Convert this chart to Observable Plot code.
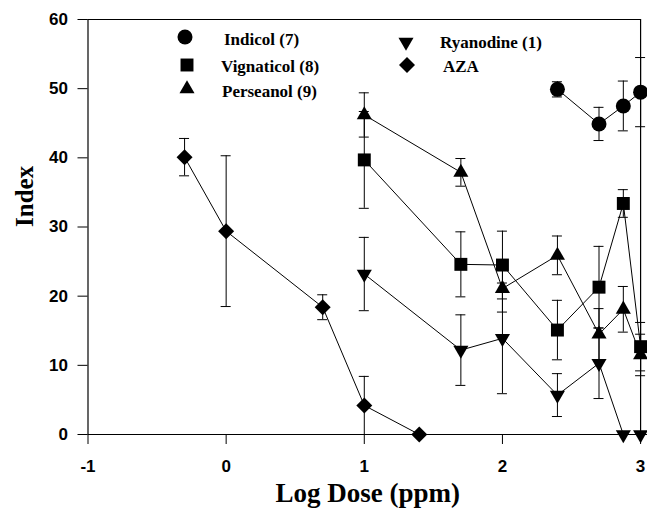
<!DOCTYPE html>
<html>
<head>
<meta charset="utf-8">
<script src="https://cdn.jsdelivr.net/npm/d3@7"></script>
<script src="https://cdn.jsdelivr.net/npm/@observablehq/plot@0.6"></script>
<style>
  body { margin: 0; background: #fff; }
  #wrap { position: relative; width: 647px; height: 516px; overflow: hidden; }
  #legend { position: absolute; left: 0; top: 0; width: 647px; height: 110px; pointer-events: none; }
  .item { position: absolute; display: flex; align-items: center; font: bold 17px "Liberation Serif", "Times New Roman", serif; color: #000; white-space: nowrap; }
  .item svg { display: block; }
</style>
</head>
<body>
<div id="wrap"><div id="legend"></div></div>
<script>
// ---- data (log dose in ppm, index, error) ----
const seriesNames = ["Indicol (7)", "Vignaticol (8)", "Perseanol (9)", "Ryanodine (1)", "AZA"];

const indicolX = [2.398, 2.699, 2.875, 3.0];
const indicolY = [49.9, 44.9, 47.5, 49.5];
const indicolErr = [1.1, 2.4, 3.6, 5.0];

const doseX = [1.0, 1.699, 2.0, 2.398, 2.699, 2.875, 3.0];
const vignaticolY = [39.7, 24.6, 24.5, 15.1, 21.3, 33.4, 12.7];
const vignaticolErr = [7.0, 4.7, 4.9, 4.3, 5.9, 2.0, 3.5];

const perseanolY = [46.2, 37.9, 21.1, 25.9, 14.5, 18.1, 11.5];
const perseanolErr = [3.2, 2.0, 3.4, 2.8, 3.7, 3.3, 3.0];

const ryanodineY = [23.2, 12.2, 13.9, 5.7, 10.3, 0, 0];
const ryanodineErr = [5.3, 5.1, 8.0, 3.1, 5.1, 0, 0];

const azaX = [-0.301, 0.0, 0.699, 1.0, 1.398];
const azaY = [40.1, 29.4, 18.4, 4.2, 0];
const azaErr = [2.7, 10.9, 1.8, 4.2, 0];

const xTicks = [-1, 0, 1, 2, 3];
const yTicks = [0, 10, 20, 30, 40, 50, 60];

// ---- build table ----
const triangleDown = {
  draw(context, size) {
    const y = -Math.sqrt(size / (Math.sqrt(3) * 3));
    context.moveTo(0, -y * 2);
    context.lineTo(-Math.sqrt(3) * y, y);
    context.lineTo(Math.sqrt(3) * y, y);
    context.closePath();
  }
};

const seriesDefs = [
  {name: seriesNames[0], xs: indicolX, ys: indicolY, es: indicolErr, symbol: "circle", r: 7.5},
  {name: seriesNames[1], xs: doseX, ys: vignaticolY, es: vignaticolErr, symbol: "square", r: 7.3},
  {name: seriesNames[2], xs: doseX, ys: perseanolY, es: perseanolErr, symbol: "triangle", r: 5.6},
  {name: seriesNames[3], xs: doseX, ys: ryanodineY, es: ryanodineErr, symbol: triangleDown, r: 5.6},
  {name: seriesNames[4], xs: azaX, ys: azaY, es: azaErr, symbol: "diamond2", r: 7.2}
];

const rows = seriesDefs.flatMap(s => s.xs.map((x, i) => ({series: s.name, x, y: s.ys[i], err: s.es[i]})));
const errRows = rows.filter(d => d.err > 0);
const capRows = errRows.flatMap(d => [{x: d.x, y: d.y + d.err}, {x: d.x, y: d.y - d.err}]);

const serif = '"Liberation Serif", "Times New Roman", serif';

const chart = Plot.plot({
  width: 647,
  height: 516,
  marginLeft: 87.5,
  marginRight: 0,
  marginTop: 19,
  marginBottom: 82,
  style: {fontFamily: '"Liberation Sans", Arial, sans-serif', background: "#fff", color: "#000"},
  x: {domain: [-1, 3.05]},
  y: {domain: [0, 60]},
  marks: [
    // frame
    Plot.ruleY([0], {stroke: "#000", strokeWidth: 1.2}),
    Plot.ruleX([-1], {y1: 0, y2: 60, stroke: "#000", strokeWidth: 1.2}),
    Plot.ruleY([60], {x1: -1, x2: 3, stroke: "#000", strokeWidth: 1.2}),
    Plot.ruleX([3], {y1: 0, y2: 60, stroke: "#000", strokeWidth: 1.2}),
    Plot.axisY({ticks: yTicks, tickSize: 10, tickPadding: 10, fontSize: 17, fontWeight: "bold", label: null, tickFormat: d => String(d)}),
    Plot.axisX({ticks: xTicks, tickSize: 10, tickPadding: 15, fontSize: 17, fontWeight: "bold", label: null, tickFormat: d => String(d)}),
    // error bars
    Plot.ruleX(errRows, {x: "x", y1: d => d.y - d.err, y2: d => d.y + d.err, stroke: "#000", strokeWidth: 1}),
    Plot.ruleY(capRows, {x1: "x", x2: "x", y: "y", insetLeft: -5, insetRight: -5, stroke: "#000", strokeWidth: 1}),
    // lines
    Plot.line(rows, {x: "x", y: "y", z: "series", stroke: "#000", strokeWidth: 1}),
    // markers
    ...seriesDefs.map(s => Plot.dot(rows.filter(d => d.series === s.name), {x: "x", y: "y", symbol: () => s.symbol, r: s.r, fill: "#000", stroke: "none"})),
    // axis titles
    Plot.text(["Index"], {text: d => d, frameAnchor: "left", rotate: -90, dx: -63, fontSize: 25, fontWeight: "bold", fontFamily: serif, fill: "#000"}),
    Plot.text(["Log Dose (ppm)"], {text: d => d, frameAnchor: "bottom", dy: 67, fontSize: 27, fontWeight: "bold", fontFamily: serif, fill: "#000"})
  ]
});
document.getElementById("wrap").prepend(chart);

// ---- legend overlay ----
const legendPos = [
  {sx: 185, sy: 37, ty: 40, tx: 224},
  {sx: 187, sy: 65, ty: 67, tx: 221},
  {sx: 187, sy: 89, ty: 92, tx: 222},
  {sx: 406, sy: 42, ty: 43, tx: 440},
  {sx: 407, sy: 65, ty: 67, tx: 443}
];
const symMap = {circle: d3.symbolCircle, square: d3.symbolSquare, triangle: d3.symbolTriangle, diamond2: d3.symbolDiamond2};
const legend = document.getElementById("legend");
seriesDefs.forEach((s, i) => {
  const p = legendPos[i];
  const type = typeof s.symbol === "string" ? symMap[s.symbol] : s.symbol;
  const path = d3.symbol(type, Math.PI * s.r * s.r)();
  const svg = `<svg width="20" height="20" viewBox="-10 -10 20 20" style="position:absolute;left:${p.sx - 10}px;top:${p.sy - 10}px"><path d="${path}" fill="#000"/></svg>`;
  legend.insertAdjacentHTML("beforeend", svg);
  const div = document.createElement("div");
  div.className = "item";
  div.style.left = p.tx + "px";
  div.style.top = (p.ty - 11) + "px";
  div.style.height = "22px";
  div.textContent = s.name;
  legend.appendChild(div);
});
</script>
</body>
</html>
